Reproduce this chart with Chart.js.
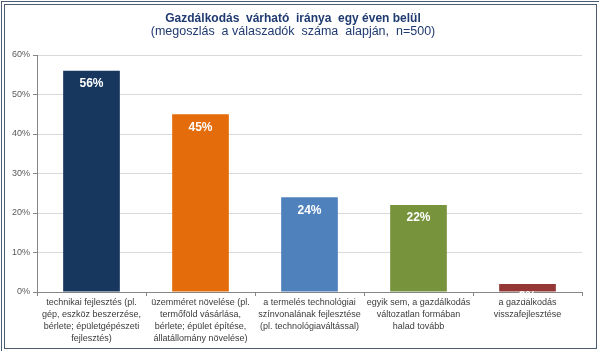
<!DOCTYPE html>
<html>
<head>
<meta charset="utf-8">
<script src="https://cdn.jsdelivr.net/npm/chart.js@4"></script>
<style>
  html, body { margin: 0; padding: 0; background: #fff; }
  #wrap { position: relative; width: 599px; height: 351px; }
  #frame {
    position: absolute; left: 1px; top: 1px; width: 591px; height: 343px;
    border: 4px double #4b5d72; pointer-events: none;
  }
</style>
</head>
<body>
<div id="wrap">
  <canvas id="chart" width="599" height="351"></canvas>
  <div id="frame"></div>
</div>
<script>
const categories = [
    ['technikai fejlesztés (pl.', 'gép, eszköz beszerzése,', 'bérlete; épületgépészeti', 'fejlesztés)'],
    ['üzemméret növelése (pl.', 'termőföld vásárlása,', 'bérlete; épület építése,', 'állatállomány növelése)'],
    ['a termelés technológiai', 'színvonalának fejlesztése', '(pl. technológiaváltással)'],
    ['egyik sem, a gazdálkodás', 'változatlan formában', 'halad tovább'],
    ['a gazdálkodás', 'visszafejlesztése']
];
const shares = [56, 45, 24, 22, 2];
const barColors = ['#17375e', '#e46c0a', '#4f81bd', '#77933c', '#953735'];

const FONT = '"Liberation Sans", Arial, sans-serif';

// white percentage labels near the top of each bar
const barLabels = {
    id: 'barLabels',
    afterDatasetsDraw(chart) {
        const ctx = chart.ctx;
        const meta = chart.getDatasetMeta(0);
        ctx.save();
        ctx.fillStyle = '#ffffff';
        ctx.font = 'bold 12px ' + FONT;
        ctx.textAlign = 'center';
        ctx.textBaseline = 'middle';
        meta.data.forEach((bar, i) => {
            ctx.fillText(shares[i] + '%', bar.x, bar.y + 13);
        });
        ctx.restore();
    }
};

new Chart(document.getElementById('chart').getContext('2d'), {
    type: 'bar',
    data: {
        labels: categories,
        datasets: [{
            data: shares,
            backgroundColor: barColors,
            categoryPercentage: 1,
            barPercentage: 0.52
        }]
    },
    options: {
        responsive: false,
        animation: false,
        layout: { padding: { left: 4, right: 17, top: 13, bottom: 0 } },
        plugins: {
            legend: { display: false },
            tooltip: { enabled: false },
            title: {
                display: true,
                text: 'Gazdálkodás  várható  iránya  egy éven belül',
                color: '#1f3a70',
                font: { family: FONT, size: 12, weight: 'bold', lineHeight: 1 },
                padding: { top: 0, bottom: 0 }
            },
            subtitle: {
                display: true,
                text: '(megoszlás  a válaszadók  száma  alapján,  n=500)',
                color: '#1f3a70',
                font: { family: FONT, size: 12.5, lineHeight: 1 },
                padding: { top: 0, bottom: 17.5 }
            }
        },
        scales: {
            x: {
                grid: {
                    drawOnChartArea: false,
                    tickColor: '#868686',
                    tickLength: 4
                },
                border: { color: '#868686' },
                ticks: {
                    color: '#3a3a3a',
                    font: { family: FONT, size: 9, lineHeight: 1.32 },
                    maxRotation: 0,
                    autoSkip: false,
                    padding: 1
                },
                afterFit(scale) { scale.height = 59; }
            },
            y: {
                min: 0,
                max: 60,
                grid: {
                    color: '#d9d9d9',
                    tickColor: '#868686',
                    tickLength: 4
                },
                border: { color: '#868686' },
                ticks: {
                    stepSize: 10,
                    color: '#595959',
                    font: { family: FONT, size: 9 },
                    padding: 3,
                    callback: v => v + '%'
                },
                afterFit(scale) { scale.width = 33; }
            }
        }
    },
    plugins: [barLabels]
});
</script>
</body>
</html>
